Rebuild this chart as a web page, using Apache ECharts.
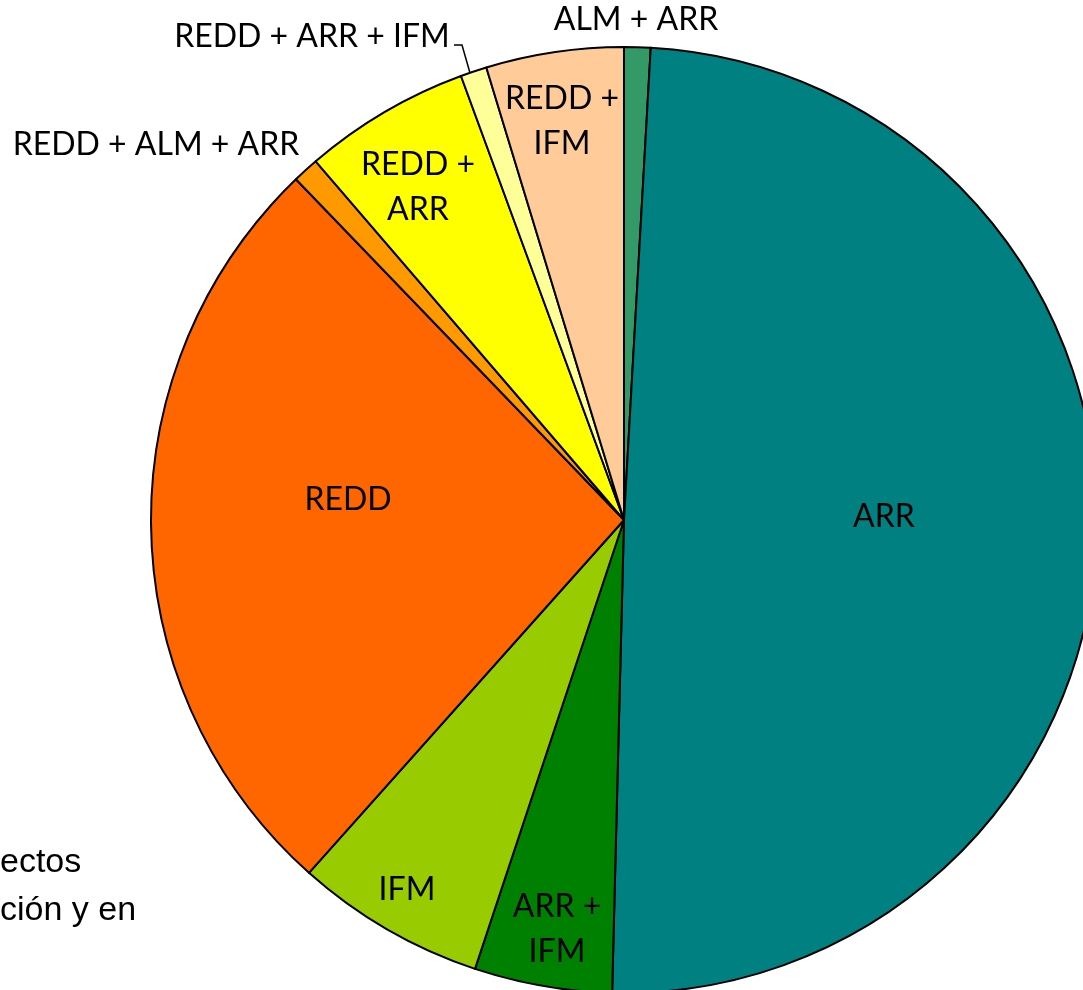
<!DOCTYPE html>
<html lang="es">
<head>
    <meta charset="UTF-8">
    <title>Proyectos por tipo</title>
    <script src="https://cdn.jsdelivr.net/npm/echarts@6/dist/echarts.min.js"></script>
    <style>
        html, body { margin: 0; padding: 0; background: #fff; }
    </style>
</head>
<body>
    <div id="pieViz" style="width: 1083px; height: 990px"></div>

    <script>
        // slices clockwise from 12 o'clock
        var categories = ['ALM + ARR', 'ARR', 'ARR + IFM', 'IFM', 'REDD',
            'REDD + ALM + ARR', 'REDD + ARR', 'REDD + ARR + IFM', 'REDD + IFM'];
        var shares = [0.9, 49.5, 4.7, 6.5, 26.2, 0.9, 5.7, 0.9, 4.7];
        var labelTexts = ['ALM + ARR', 'ARR', 'ARR +\nIFM', 'IFM', 'REDD',
            'REDD + ALM + ARR', 'REDD +\nARR', 'REDD + ARR + IFM', 'REDD +\nIFM'];
        var colors = ['#339966', '#008080', '#008000', '#99CC00', '#FF6600',
            '#FF9900', '#FFFF00', '#FFFF99', '#FFCC99'];

        // where each label sits (pixels)
        var labelPos = [
            [636, 20], [884, 517], [557, 929], [407, 890], [348, 500],
            [156, 145], [418, 187], [312, 37], [562, 121]
        ];

        var pieChart = echarts.init(document.getElementById('pieViz'));

        var pieData = [];
        for (var i = 0; i < categories.length; i++) {
            pieData.push({
                name: categories[i],
                value: shares[i],
                itemStyle: { color: colors[i] },
                label: { formatter: labelTexts[i] },
                labelLine: { show: i == 7 }
            });
        }

        var pieOption = {
            animation: false,
            series: [{
                type: 'pie',
                center: [624, 520],
                radius: 473,
                startAngle: 90,
                clockwise: true,
                data: pieData,
                itemStyle: {
                    borderColor: '#000',
                    borderWidth: 2
                },
                label: {
                    show: true,
                    position: 'outside',
                    color: '#000',
                    fontFamily: 'Lato',
                    fontSize: 32,
                    lineHeight: 45,
                    overflow: 'none',
                    width: 400
                },
                labelLine: {
                    show: false,
                    lineStyle: { color: '#000', width: 1.5 }
                },
                labelLayout: function(params) {
                    var p = labelPos[params.dataIndex];
                    var out = {
                        x: p[0],
                        y: p[1],
                        align: 'center',
                        verticalAlign: 'middle'
                    };
                    if (params.dataIndex == 7) {
                        out.labelLinePoints = [[470, 73], [462, 45], [454, 45]];
                    }
                    return out;
                },
                emphasis: { disabled: true }
            }],
            // cut-off caption at the lower left
            graphic: [{
                type: 'text',
                left: 0,
                top: 839,
                style: {
                    text: 'ectos\nción y en',
                    fontFamily: 'Liberation Sans',
                    fontSize: 34,
                    lineHeight: 48,
                    fill: '#000'
                }
            }]
        };

        pieChart.setOption(pieOption);
    </script>
</body>
</html>
